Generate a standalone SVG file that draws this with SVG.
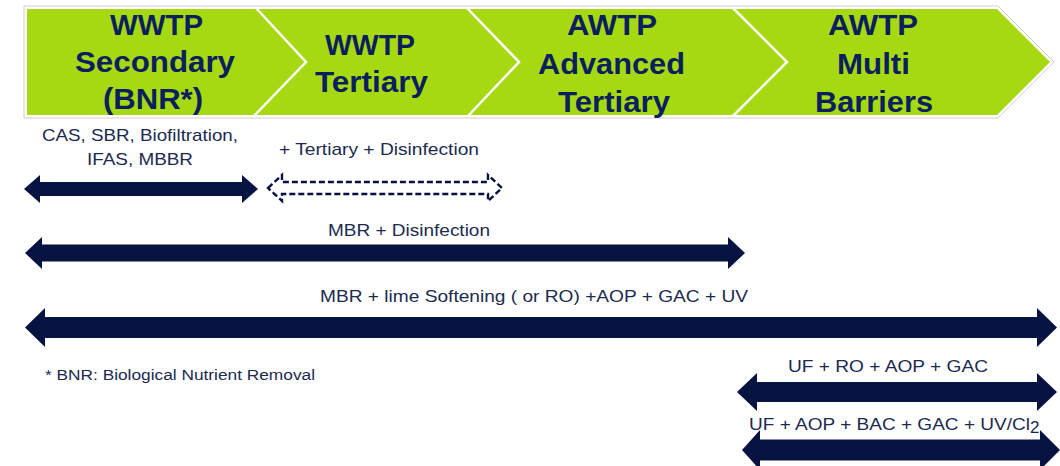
<svg xmlns="http://www.w3.org/2000/svg" width="1060" height="466" viewBox="0 0 1060 466">
  <style>
    .stage { font-family: "Liberation Sans", Arial, sans-serif; font-weight: bold; font-size: 29px; fill: #0B1F5E; }
    .lbl { font-family: "Liberation Sans", Arial, sans-serif; font-size: 17px; fill: #1C2A50; }
    .note { font-family: "Liberation Sans", Arial, sans-serif; font-size: 15.5px; fill: #1C2A50; }
    .arrow { fill: #061340; }
    .arrow-dash { fill: #ffffff; stroke: #061340; stroke-width: 2.4; stroke-dasharray: 6 3; }
    .sep { fill: none; stroke: #ffffff; stroke-width: 2.5; }
  </style>
  <rect width="1060" height="466" fill="#ffffff"/>

  <!-- process band -->
  <g id="band">
    <path d="M24,6 L998,6 L1054,62 L998,118 L24,118 Z" fill="#ffffff" stroke="#cfcfcf" stroke-width="1"/>
    <path d="M27,9 L997,9 L1050,62 L997,115 L27,115 Z" fill="#A6D912"/>
    <polyline class="sep" points="256,8 306,62 254,116"/>
    <polyline class="sep" points="467,8 519,62 468,116"/>
    <polyline class="sep" points="733,8 787,62 733,116"/>
  </g>

  <g id="stage-secondary">
    <text class="stage" x="110" y="35" textLength="93" lengthAdjust="spacingAndGlyphs">WWTP</text>
    <text class="stage" x="75" y="72" textLength="160" lengthAdjust="spacingAndGlyphs">Secondary</text>
    <text class="stage" x="103" y="109" textLength="100" lengthAdjust="spacingAndGlyphs">(BNR*)</text>
  </g>
  <g id="stage-tertiary">
    <text class="stage" x="325" y="55" textLength="90" lengthAdjust="spacingAndGlyphs">WWTP</text>
    <text class="stage" x="315" y="92" textLength="113" lengthAdjust="spacingAndGlyphs">Tertiary</text>
  </g>
  <g id="stage-advanced">
    <text class="stage" x="567" y="35" textLength="90" lengthAdjust="spacingAndGlyphs">AWTP</text>
    <text class="stage" x="538" y="73.5" textLength="147" lengthAdjust="spacingAndGlyphs">Advanced</text>
    <text class="stage" x="558" y="112" textLength="112" lengthAdjust="spacingAndGlyphs">Tertiary</text>
  </g>
  <g id="stage-multi">
    <text class="stage" x="828" y="35" textLength="90" lengthAdjust="spacingAndGlyphs">AWTP</text>
    <text class="stage" x="837" y="73.5" textLength="73" lengthAdjust="spacingAndGlyphs">Multi</text>
    <text class="stage" x="815" y="112" textLength="118" lengthAdjust="spacingAndGlyphs">Barriers</text>
  </g>

  <!-- treatment train spans -->
  <g id="connectors">
    <path class="arrow" d="M24,189 L40,175 L40,182 L242,182 L242,175 L258,189 L242,203 L242,196 L40,196 L40,203 Z"/>
    <path class="arrow-dash" d="M268,188 L282,175 L282,182 L488,182 L488,175 L502,188 L488,201 L488,194 L282,194 L282,201 Z"/>
    <path class="arrow" d="M25,253 L42,237 L42,244.5 L728,244.5 L728,237 L745,253 L728,269 L728,261.5 L42,261.5 L42,269 Z"/>
    <path class="arrow" d="M25,327.5 L45,308 L45,317 L1037,317 L1037,308 L1057,327.5 L1037,347 L1037,338 L45,338 L45,347 Z"/>
    <path class="arrow" d="M737,392 L757,373 L757,382 L1037,382 L1037,373 L1057,392 L1037,411 L1037,402 L757,402 L757,411 Z"/>
    <path class="arrow" d="M742,450 L760,430 L760,439.5 L1040,439.5 L1040,430 L1060,450 L1040,470 L1040,460.5 L760,460.5 L760,470 Z"/>
  </g>

  <g id="labels">
    <text class="lbl" x="42" y="141" textLength="196" lengthAdjust="spacingAndGlyphs">CAS, SBR, Biofiltration,</text>
    <text class="lbl" x="87" y="165" textLength="106" lengthAdjust="spacingAndGlyphs">IFAS, MBBR</text>
    <text class="lbl" x="279" y="155" textLength="200" lengthAdjust="spacingAndGlyphs">+ Tertiary + Disinfection</text>
    <text class="lbl" x="328" y="236" textLength="162" lengthAdjust="spacingAndGlyphs">MBR + Disinfection</text>
    <text class="lbl" x="320" y="302" textLength="428" lengthAdjust="spacingAndGlyphs">MBR + lime Softening ( or RO) +AOP + GAC + UV</text>
    <text class="note" x="45" y="380" textLength="270" lengthAdjust="spacingAndGlyphs">* BNR: Biological Nutrient Removal</text>
    <text class="lbl" x="788" y="372" textLength="200" lengthAdjust="spacingAndGlyphs">UF + RO + AOP + GAC</text>
    <text class="lbl" x="749" y="430" textLength="281" lengthAdjust="spacingAndGlyphs">UF + AOP + BAC + GAC + UV/Cl</text>
    <text class="lbl" x="1030" y="433" font-size="9">2</text>
  </g>
</svg>
